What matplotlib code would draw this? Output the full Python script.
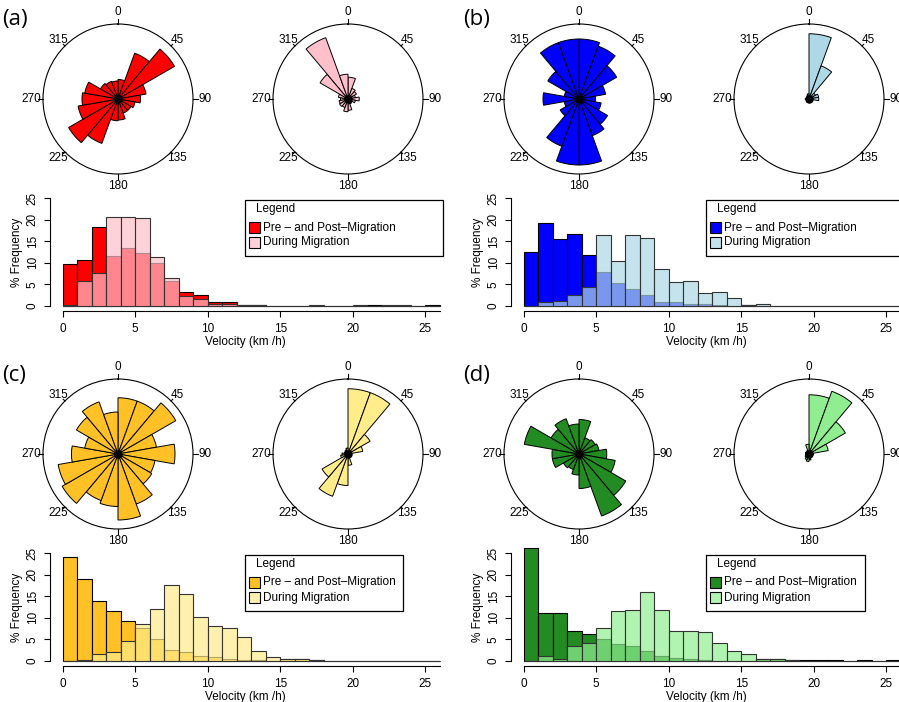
import numpy as np
import matplotlib.pyplot as plt
from matplotlib.patches import Rectangle
from matplotlib.colors import to_rgba

plt.rcParams['font.family'] = ['Liberation Sans', 'DejaVu Sans']

W, H = 899, 702

# rose diagrams: 18 sectors of 20 deg, clockwise from north, radius as share of the circle
sectors = np.arange(0, 360, 20)
rose_a_pre = [0.26, 0.65, 0.87, 0.38, 0.30, 0.23, 0.20, 0.20, 0.28,
              0.29, 0.63, 0.76, 0.54, 0.48, 0.45, 0.27, 0.25, 0.24]
rose_a_dur = [0.29, 0.15, 0.13, 0.10, 0.15, 0.10, 0.06, 0.07, 0.15,
              0.17, 0.12, 0.13, 0.12, 0.10, 0.13, 0.43, 0.87, 0.33]
rose_b_pre = [0.80, 0.75, 0.58, 0.36, 0.22, 0.30, 0.44, 0.52, 0.88,
              0.88, 0.67, 0.29, 0.20, 0.48, 0.20, 0.48, 0.80, 0.80]
rose_b_dur = [0.87, 0.47, 0.10, 0.13, 0.13, 0.05, 0.05, 0.04, 0.05,
              0.05, 0.05, 0.04, 0.04, 0.05, 0.04, 0.04, 0.05, 0.07]
rose_c_pre = [0.75, 0.75, 0.89, 0.52, 0.76, 0.50, 0.52, 0.71, 0.88,
              0.70, 0.66, 0.86, 0.81, 0.62, 0.45, 0.64, 0.74, 0.56]
rose_c_dur = [0.87, 0.87, 0.34, 0.20, 0.05, 0.05, 0.04, 0.05, 0.15,
              0.42, 0.60, 0.40, 0.10, 0.08, 0.05, 0.05, 0.06, 0.08]
rose_d_pre = [0.46, 0.23, 0.25, 0.27, 0.37, 0.49, 0.72, 0.88, 0.46,
              0.28, 0.22, 0.24, 0.36, 0.36, 0.74, 0.43, 0.50, 0.40]
rose_d_dur = [0.79, 0.89, 0.56, 0.26, 0.06, 0.04, 0.04, 0.05, 0.08,
              0.10, 0.08, 0.06, 0.05, 0.04, 0.05, 0.04, 0.05, 0.13]

# velocity histograms, 1 km/h bins from 0 to 26, % frequency
bins = np.arange(0, 26)
hist_a_pre = [9.6, 10.6, 18.3, 11.6, 13.4, 12.2, 9.9, 5.7, 3.1, 2.5, 0.9, 0.9, 0.2,
              0.2, 0, 0, 0, 0, 0, 0, 0, 0.2, 0, 0, 0, 0.2]
hist_a_dur = [0.2, 5.8, 7.5, 20.7, 20.7, 20.5, 11.4, 6.4, 2.3, 1.6, 0.5, 0.4, 0.1,
              0.05, 0, 0, 0, 0.1, 0, 0, 0.1, 0, 0.1, 0.1, 0, 0]
hist_b_pre = [12.6, 19.2, 15.5, 16.7, 11.8, 7.9, 5.2, 4.0, 2.5, 0.8, 0.8, 0.3, 0.5,
              0.2, 0, 0.1, 0, 0, 0, 0, 0, 0, 0, 0, 0, 0]
hist_b_dur = [0, 0.9, 1.1, 2.6, 4.3, 16.5, 10.5, 16.5, 15.8, 8.5, 5.4, 5.8, 2.9,
              3.1, 1.9, 0.2, 0.5, 0, 0, 0, 0, 0, 0, 0, 0, 0]
hist_c_pre = [24.1, 19.0, 14.0, 11.5, 9.3, 7.7, 5.0, 2.6, 2.0, 1.2, 0.8, 0.5, 0.2,
              0.1, 0, 0.3, 0.3, 0.2, 0, 0, 0, 0, 0, 0, 0, 0]
hist_c_dur = [0, 0.1, 1.6, 2.0, 4.5, 8.6, 12.0, 17.6, 15.5, 10.1, 8.1, 7.6, 5.4,
              2.3, 0.9, 0.4, 0.4, 0.1, 0, 0, 0, 0, 0, 0, 0, 0]
hist_d_pre = [26.3, 11.2, 11.1, 7.0, 6.3, 5.0, 4.0, 3.5, 2.3, 1.2, 0.7, 0.5, 0.2,
              0, 0, 0, 0.4, 0.3, 0.2, 0.1, 0.1, 0.1, 0, 0.1, 0, 0.1]
hist_d_dur = [0, 1.1, 0.5, 3.4, 4.2, 7.6, 11.6, 11.8, 15.9, 11.8, 7.0, 7.0, 6.7,
              4.2, 2.2, 1.5, 0.5, 0.4, 0.2, 0, 0, 0, 0, 0, 0, 0]

panels = [
    dict(label='(a)', pre='#FF0000', dur='#FFC0CB',
         roses=(rose_a_pre, rose_a_dur), hist=(hist_a_pre, hist_a_dur)),
    dict(label='(b)', pre='#0000FF', dur='#ADD8E6',
         roses=(rose_b_pre, rose_b_dur), hist=(hist_b_pre, hist_b_dur)),
    dict(label='(c)', pre='#FFC125', dur='#FFEC8B',
         roses=(rose_c_pre, rose_c_dur), hist=(hist_c_pre, hist_c_dur)),
    dict(label='(d)', pre='#228B22', dur='#90EE90',
         roses=(rose_d_pre, rose_d_dur), hist=(hist_d_pre, hist_d_dur)),
]

fig = plt.figure(figsize=(W / 100, H / 100), dpi=100)


def fx(x):
    return x / W


def fy(y):
    return 1 - y / H


def rose(cx, cy, r, values, color):
    ax = fig.add_axes([fx(cx - r), fy(cy + r), 2 * r / W, 2 * r / H], projection='polar')
    ax.set_theta_zero_location('N')
    ax.set_theta_direction(-1)
    ax.bar(np.deg2rad(sectors + 10), values, width=np.deg2rad(20), bottom=0,
           color=color, edgecolor='black', linewidth=0.7)
    ax.plot(0, 0, 'o', color='black', ms=5)
    ax.set_ylim(0, 1)
    ax.grid(False)
    ax.set_xticks([])
    ax.set_yticks([])
    ax.spines['polar'].set_linewidth(0.8)
    for ang in range(0, 360, 45):
        t = np.deg2rad(ang)
        tick = 1.07 if ang % 90 == 0 else 1.03
        ax.plot([t, t], [1, tick], color='black', lw=0.8, clip_on=False)
        rl = 1.16 if ang % 90 == 0 else 1.12
        ax.text(t, rl, str(ang), ha='center', va='center', fontsize=8.5)


def hist(x0, y0, pre, dur, cpre, cdur):
    ux, uy = 14.5, 4.3
    ax = fig.add_axes([fx(x0), fy(y0), 26 * ux / W, 27 * uy / H])
    ax.bar(bins, pre, width=1, align='edge', color=cpre, edgecolor='black',
           linewidth=0.8, clip_on=False)
    ax.bar(bins, dur, width=1, align='edge', color=to_rgba(cdur, 0.7),
           edgecolor='#333333', linewidth=0.8, clip_on=False)
    ax.set_xlim(0, 26)
    ax.set_ylim(0, 27)
    for s in ['top', 'right']:
        ax.spines[s].set_visible(False)
    ax.spines['left'].set_position(('outward', 9))
    ax.spines['bottom'].set_position(('outward', 4))
    ax.spines['left'].set_bounds(0, 25)
    ax.spines['bottom'].set_bounds(0, 26)
    ax.set_xticks([0, 5, 10, 15, 20, 25])
    ax.set_yticks([0, 5, 10, 15, 20, 25])
    ax.tick_params(labelsize=8.5, length=4.3, width=0.8, pad=4)
    plt.setp(ax.get_yticklabels(), rotation=90, va='center')
    ax.set_facecolor('none')
    return ax


def legend(x0, y0, x1, cpre, cdur):
    fig.add_artist(Rectangle((fx(x0), fy(y0 + 56)), (x1 - x0) / W, 56 / H,
                             transform=fig.transFigure, facecolor='white',
                             edgecolor='black', lw=0.9))
    fig.text(fx(x0 + 11), fy(y0 + 9), 'Legend', fontsize=8.5, va='center')
    for k, (c, t) in enumerate([(cpre, 'Pre – and Post–Migration'),
                                (to_rgba(cdur, 0.7), 'During Migration')]):
        yy = y0 + 22 + 15 * k
        fig.add_artist(Rectangle((fx(x0 + 4), fy(yy + 11)), 11 / W, 11 / H,
                                 transform=fig.transFigure, facecolor=c,
                                 edgecolor='black', lw=0.8))
        fig.text(fx(x0 + 18), fy(yy + 5.5), t, fontsize=8.5, va='center')


origins = [(0, 0), (461, 0), (0, 355), (461, 355)]
leg_right = [443, 903, 403, 865]
for p, (ox, oy), lr in zip(panels, origins, leg_right):
    fig.text(fx(ox + 2), fy(oy + 20), p['label'], fontsize=16, va='center',
             family=['Open Sans', 'DejaVu Sans'])
    rose(ox + 118, oy + 99, 75, p['roses'][0], p['pre'])
    rose(ox + 348, oy + 99, 75, p['roses'][1], p['dur'])
    ax = hist(ox + 62.7, oy + 305.7, p['hist'][0], p['hist'][1], p['pre'], p['dur'])
    fig.text(fx(ox + 17), fy(oy + 252), '% Frequency', rotation=90, fontsize=8.5,
             ha='center', va='center')
    fig.text(fx(ox + 245), fy(oy + 342), 'Velocity (km /h)', fontsize=8.5,
             ha='center', va='center')
    legend(ox + 245, oy + 200, lr, p['pre'], p['dur'])

fig.savefig('out.png', dpi=100)
